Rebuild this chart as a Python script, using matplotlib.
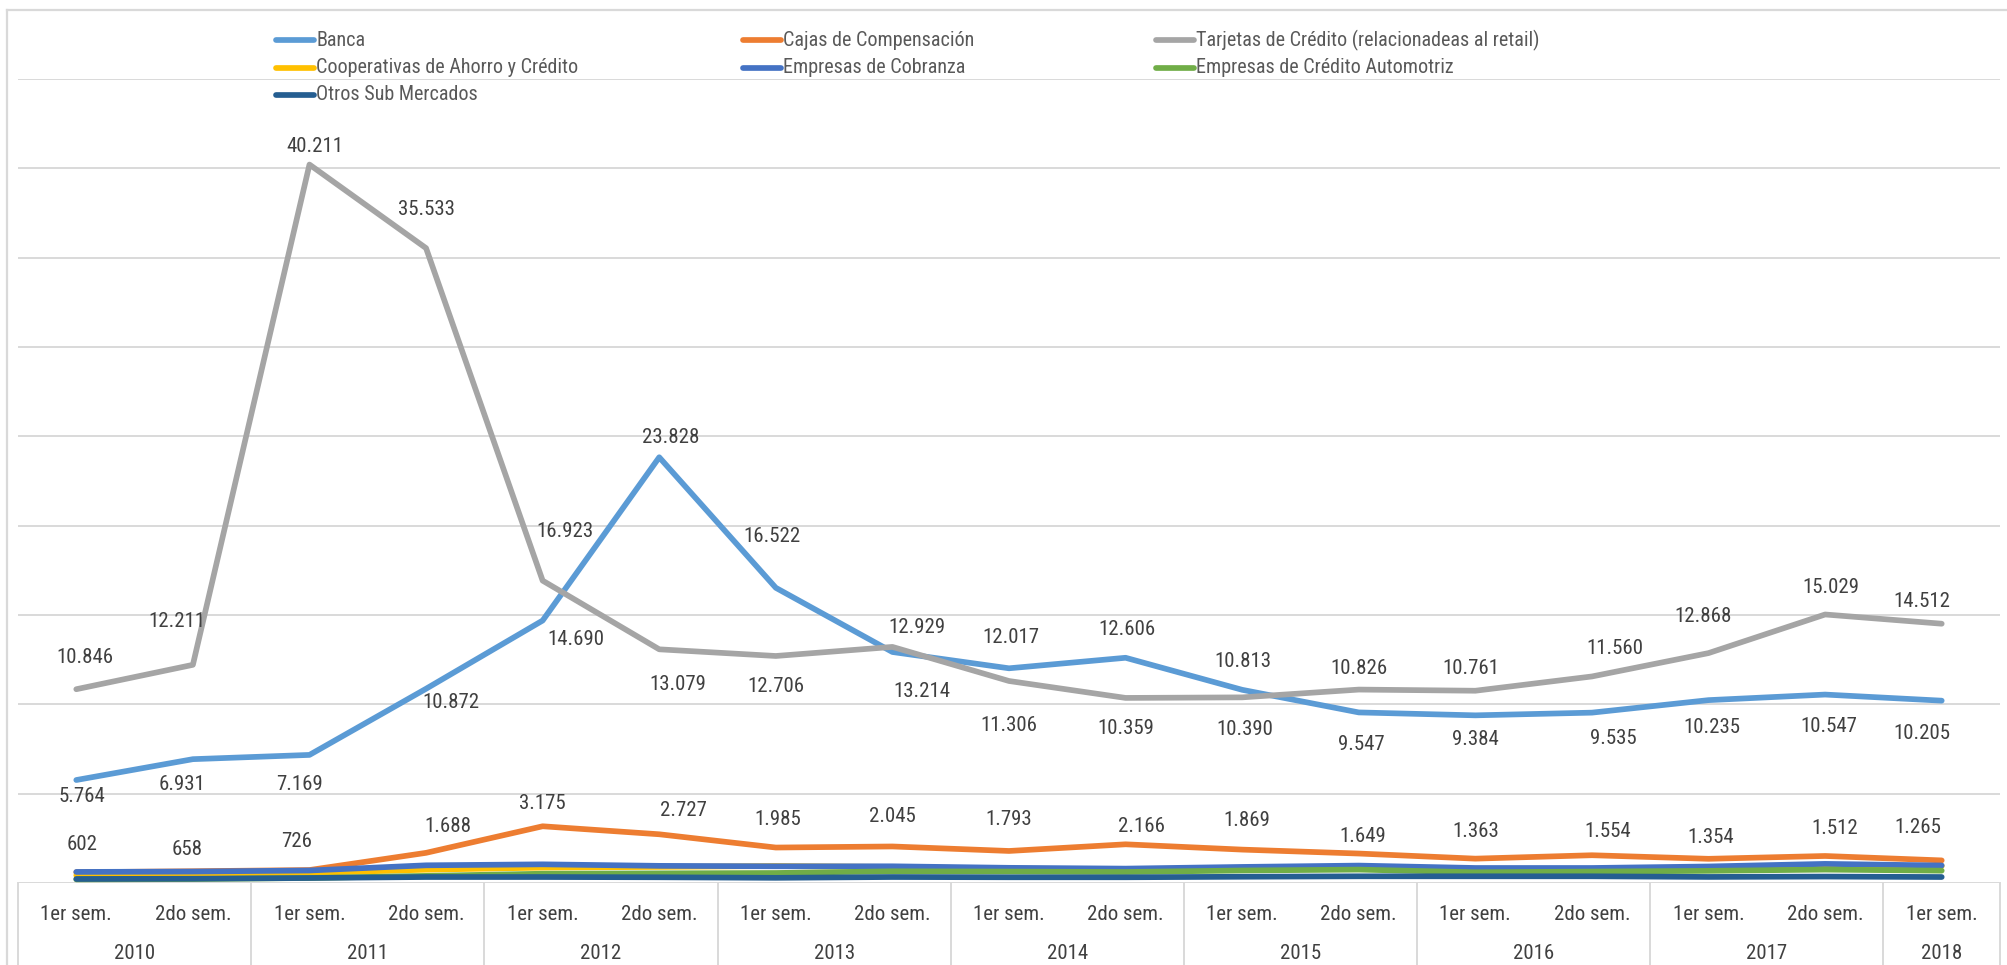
import matplotlib
matplotlib.use("Agg")
import matplotlib.pyplot as plt
import matplotlib.font_manager as fm
from matplotlib.lines import Line2D
from matplotlib.transforms import blended_transform_factory

# ---- data -------------------------------------------------------------
years = ["2010", "2011", "2012", "2013", "2014", "2015", "2016", "2017", "2018"]
semesters = ["1er sem.", "2do sem."] * 8 + ["1er sem."]

banca = [5764, 6931, 7169, 10872, 14690, 23828, 16522, 12929, 12017,
         12606, 10813, 9547, 9384, 9535, 10235, 10547, 10205]
cajas = [602, 658, 726, 1688, 3175, 2727, 1985, 2045, 1793,
         2166, 1869, 1649, 1363, 1554, 1354, 1512, 1265]
tarjetas = [10846, 12211, 40211, 35533, 16923, 13079, 12706, 13214, 11306,
            10359, 10390, 10826, 10761, 11560, 12868, 15029, 14512]
cooperativas = [430, 470, 560, 745, 860, 900, 950, 900, 800,
                780, 820, 850, 780, 760, 850, 950, 950]
cobranza = [620, 640, 700, 990, 1045, 960, 935, 935, 850,
            805, 900, 975, 840, 840, 925, 1070, 980]
automotriz = [200, 220, 280, 400, 520, 540, 560, 655, 640,
              615, 700, 750, 600, 640, 680, 750, 690]
otros = [225, 240, 280, 335, 335, 320, 290, 335, 320,
         320, 350, 375, 375, 375, 340, 360, 335]

names = ["Banca", "Cajas de Compensación", "Tarjetas de Crédito (relacionadeas al retail)",
         "Cooperativas de Ahorro y Crédito", "Empresas de Cobranza",
         "Empresas de Crédito Automotriz", "Otros Sub Mercados"]
series = [banca, cajas, tarjetas, cooperativas, cobranza, automotriz, otros]
colors = ["#5B9BD5", "#ED7D31", "#A5A5A5", "#FFC000", "#4472C4", "#70AD47", "#255E91"]

# label placement: pixel offsets (right, up) of each value label from its point
banca_off = [(6, -16), (-11, -25), (-10, -30), (25, -14), (33, -19), (11, 20), (-4, 51),
             (25, 25), (2, 31), (1, 28), (1, 28), (3, -32), (0, -24), (21, -26),
             (3, -27), (4, -32), (-20, -33)]
tarjetas_off = [(9, 32), (-16, 43), (5, 18), (0, 39), (22, 49), (19, -35), (0, -31),
                (29, -45), (0, -45), (0, -31), (3, -32), (0, 21), (-4, 22), (23, 28),
                (-5, 37), (6, 27), (-20, 22)]
cajas_off = [(6, 28), (-6, 22), (-13, 29), (22, 26), (0, 23), (24, 24), (2, 28), (0, 30),
             (0, 31), (16, 18), (5, 29), (4, 17), (0, 27), (16, 24), (2, 21), (10, 27),
             (-24, 33)]


def pick_font(candidates):
    for name in candidates:
        try:
            fm.findfont(fm.FontProperties(family=name), fallback_to_default=False)
            return name
        except Exception:
            continue
    return "DejaVu Sans"


FONT = pick_font(["Liberation Sans Narrow", "Roboto Condensed", "Open Sans Condensed",
                  "Liberation Sans"])
plt.rcParams["font.family"] = [FONT, "DejaVu Sans"]

W, H = 2007, 965
fig = plt.figure(figsize=(W / 100, H / 100), dpi=100)
fig.patch.set_facecolor("white")

# plot area in pixel terms
left_px, right_px, top_px, bottom_px = 18, 2000, 79, 883
ax = fig.add_axes([left_px / W, (H - bottom_px) / H,
                   (right_px - left_px) / W, (bottom_px - top_px) / H])

x = list(range(len(banca)))
grid_c = "#D9D9D9"
for yv in range(5000, 45001, 5000):
    ax.axhline(yv, color=grid_c, lw=1.4, zorder=0)
ax.axhline(0, color=grid_c, lw=1.4, zorder=0)

line_w = 4.1
for vals, col in zip(series, colors):
    ax.plot(x, vals, color=col, lw=line_w, solid_capstyle="round",
            solid_joinstyle="round", zorder=2)

ax.set_xlim(-0.5, len(x) - 0.5)
ax.set_ylim(0, 45000)
ax.axis("off")

label_c = "#404040"
fs = 15


def fmt(v):
    return f"{v:,}".replace(",", ".")


for vals, offs in ((tarjetas, tarjetas_off), (banca, banca_off), (cajas, cajas_off)):
    for xi, v, (dx, dy) in zip(x, vals, offs):
        ax.annotate(fmt(v), (xi, v), xytext=(dx, dy), textcoords="offset pixels",
                    ha="center", va="center", fontsize=fs, color=label_c, zorder=3)

# category table below the axis
trans = blended_transform_factory(ax.transData, ax.transAxes)
ax_h = bottom_px - top_px
for xi, lab in zip(x, semesters):
    ax.text(xi, -31 / ax_h, lab, transform=trans, ha="center", va="center",
            fontsize=fs, color=label_c, clip_on=False)
for i, yr in enumerate(years):
    start = 2 * i
    end = min(2 * i + 1, len(x) - 1)
    ax.text((start + end) / 2, -80 / ax_h, yr, transform=trans, ha="center",
            va="bottom", fontsize=fs, color=label_c, clip_on=False)
edges = [-0.5] + [2 * i + 1.5 for i in range(8)] + [len(x) - 0.5]
for e in edges:
    ax.plot([e, e], [0, -0.12], transform=trans, color=grid_c, lw=1.4, clip_on=False)

# chart border (top and left edges)
fig.add_artist(Line2D([7 / W, 1], [1 - 10 / H, 1 - 10 / H], color=grid_c, lw=1.6))
fig.add_artist(Line2D([7 / W, 7 / W], [0, 1 - 10 / H], color=grid_c, lw=1.6))

# legend laid out row by row, three columns
col_x = [276, 743, 1156]
row_y = [40, 68, 95]
for i, (nm, col) in enumerate(zip(names, colors)):
    r, c = divmod(i, 3)
    x0 = col_x[c]
    y0 = 1 - row_y[r] / H
    fig.add_artist(Line2D([x0 / W, (x0 + 38) / W], [y0, y0], color=col, lw=line_w,
                          solid_capstyle="round"))
    fig.text((x0 + 40) / W, y0, nm, ha="left", va="center", fontsize=14.5,
             color="#595959")

fig.savefig("out.png", dpi=100, facecolor="white")
